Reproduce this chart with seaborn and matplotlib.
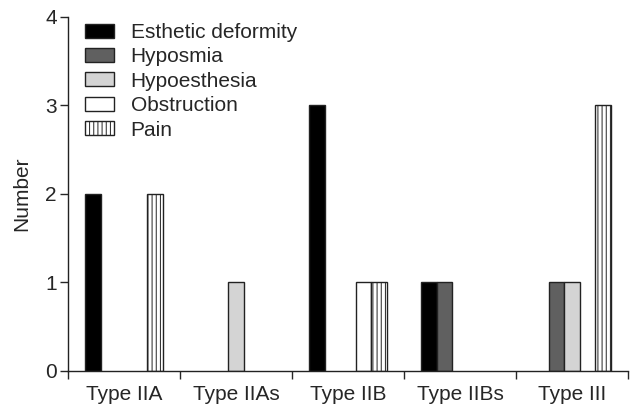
import numpy as np
import pandas as pd
import matplotlib
matplotlib.use("Agg")
import matplotlib.pyplot as plt
from matplotlib.patches import Patch
from matplotlib.ticker import MultipleLocator
import seaborn as sns

# data
categories = ['Type IIA', 'Type IIAs', 'Type IIB', 'Type IIBs', 'Type III']
symptoms = ['Esthetic deformity', 'Hyposmia', 'Hypoesthesia', 'Obstruction', 'Pain']
esthetic = [2, 0, 3, 1, 0]
hyposmia = [0, 0, 0, 1, 1]
hypoesthesia = [0, 1, 0, 0, 1]
obstruction = [0, 0, 1, 0, 0]
pain = [2, 0, 1, 0, 3]

colors = ['#000000', '#606060', '#d4d4d4', '#ffffff', '#ffffff']
hatches = ['', '', '', '', '||||']

sns.set_style("ticks")
plt.rcParams['font.family'] = ['Liberation Sans', 'DejaVu Sans']
plt.rcParams['hatch.linewidth'] = 0.7
FS = 15

rows = []
for s, vals in zip(symptoms, [esthetic, hyposmia, hypoesthesia, obstruction, pain]):
    for c, v in zip(categories, vals):
        rows.append({'Type': c, 'Symptom': s, 'Number': v})
df = pd.DataFrame(rows)
df = df[df['Number'] > 0]

fig = plt.figure(figsize=(6.35, 4.07), dpi=100)
ax = fig.add_axes([0.107, 0.0885, 0.882, 0.87])

sns.barplot(data=df, x='Type', y='Number', hue='Symptom',
            order=categories, hue_order=symptoms,
            palette=dict(zip(symptoms, colors)),
            width=0.69, gap=0, edgecolor='#222222', linewidth=1.0,
            saturation=1, legend=False, ax=ax)

for cont, h in zip(ax.containers, hatches):
    for bar in cont:
        bar.set_hatch(h)

ax.set_xlim(-0.5, 4.5)
ax.set_ylim(0, 4)
ax.yaxis.set_major_locator(MultipleLocator(1))
ax.set_xticks(np.arange(len(categories)))
ax.set_xticklabels(categories)
ax.set_xticks(np.arange(len(categories) + 1) - 0.5, minor=True)
ax.tick_params(axis='x', which='major', length=0, pad=10, labelsize=FS)
ax.tick_params(axis='x', which='minor', length=6, width=1, direction='out')
ax.tick_params(axis='y', length=6, width=1, pad=2, labelsize=FS)
ax.set_xlabel('')
ax.set_ylabel('Number', fontsize=FS, labelpad=10)
sns.despine(ax=ax)
for sp in ['left', 'bottom']:
    ax.spines[sp].set_linewidth(1)
    ax.spines[sp].set_color('#222222')

handles = [Patch(facecolor=c, edgecolor='#222222', hatch=h, linewidth=1.0)
           for c, h in zip(colors, hatches)]
ax.legend(handles, symptoms, loc='upper left', bbox_to_anchor=(0.03, 0.983),
          frameon=False, fontsize=FS, handlelength=1.4, handleheight=0.65,
          handletextpad=0.8, labelspacing=0.26, borderaxespad=0, borderpad=0)

fig.savefig('out.png', dpi=100)
